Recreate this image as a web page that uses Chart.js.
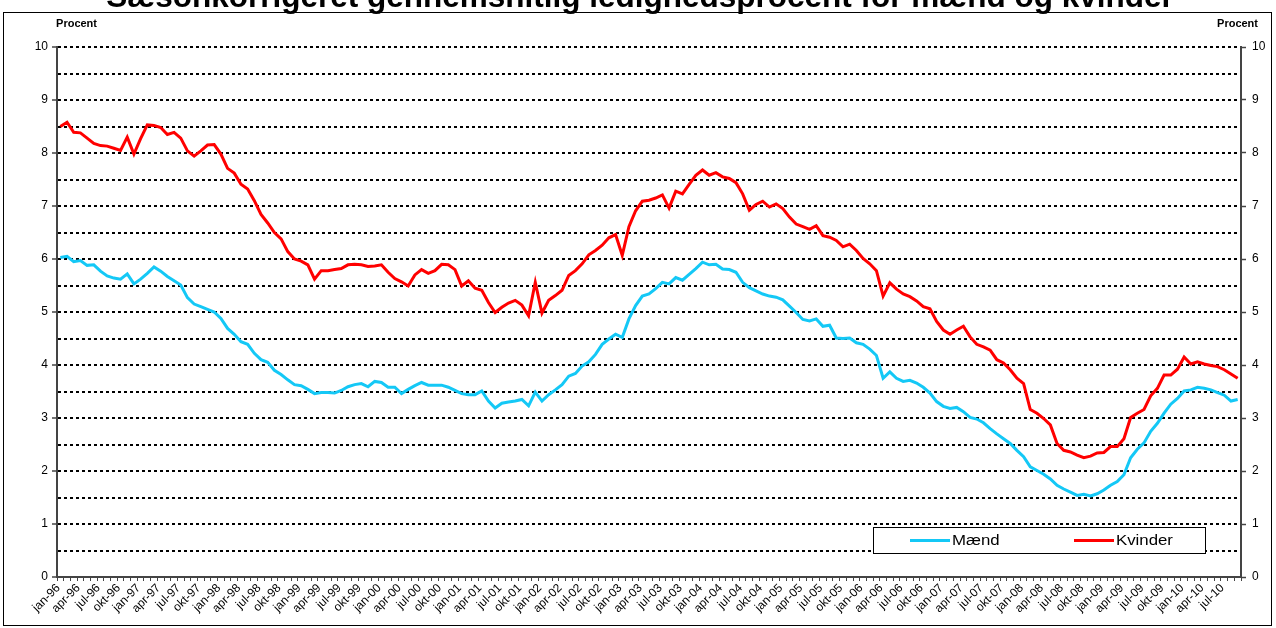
<!DOCTYPE html>
<html>
<head>
<meta charset="utf-8">
<script src="https://cdn.jsdelivr.net/npm/chart.js@4/dist/chart.umd.min.js"></script>
<style>
  html, body { margin: 0; padding: 0; background: #fff; }
  #wrap { width: 1276px; height: 628px; }
</style>
</head>
<body>
<div id="wrap"><canvas id="chart" width="1276" height="628"></canvas></div>
<script>
// months jan-96 .. sep-10
const monthNames = ["jan", "feb", "mar", "apr", "maj", "jun", "jul", "aug", "sep", "okt", "nov", "dec"];
const firstYear = 1996;
const monthCount = 177;
const months = [];
for (let i = 0; i < monthCount; i++) {
  const yy = String((firstYear + Math.floor(i / 12)) % 100).padStart(2, "0");
  months.push(monthNames[i % 12] + "-" + yy);
}

const yTicks = [0, 1, 2, 3, 4, 5, 6, 7, 8, 9, 10];

// ledighedsprocent, maend
const maend = [
  6.03, 6.05, 5.95, 5.97, 5.88, 5.89, 5.77, 5.68, 5.64, 5.62, 5.72, 5.53,
  5.62, 5.73, 5.85, 5.77, 5.67, 5.59, 5.51, 5.27, 5.15, 5.10, 5.05, 5.00,
  4.88, 4.69, 4.58, 4.44, 4.39, 4.22, 4.10, 4.05, 3.90, 3.82, 3.72, 3.63,
  3.61, 3.54, 3.46, 3.48, 3.48, 3.47, 3.52, 3.59, 3.63, 3.65, 3.59, 3.69,
  3.67, 3.58, 3.58, 3.46, 3.54, 3.61, 3.67, 3.62, 3.62, 3.62, 3.58, 3.52,
  3.46, 3.44, 3.44, 3.51, 3.32, 3.19, 3.28, 3.30, 3.32, 3.35, 3.23, 3.49,
  3.32, 3.44, 3.53, 3.63, 3.79, 3.84, 3.98, 4.06, 4.20, 4.39, 4.49, 4.58,
  4.52, 4.87, 5.12, 5.30, 5.34, 5.44, 5.56, 5.53, 5.65, 5.60, 5.71, 5.82,
  5.94, 5.89, 5.90, 5.81, 5.80, 5.75, 5.56, 5.46, 5.40, 5.34, 5.30, 5.28,
  5.23, 5.11, 4.99, 4.86, 4.83, 4.87, 4.73, 4.75, 4.51, 4.50, 4.51, 4.42,
  4.39, 4.30, 4.18, 3.75, 3.87, 3.75, 3.69, 3.71, 3.66, 3.58, 3.47, 3.31,
  3.22, 3.18, 3.20, 3.12, 3.01, 2.98, 2.91, 2.80, 2.70, 2.61, 2.52, 2.39,
  2.27, 2.08, 2.01, 1.94, 1.85, 1.73, 1.66, 1.60, 1.54, 1.56, 1.53, 1.57,
  1.64, 1.73, 1.80, 1.93, 2.25, 2.41, 2.53, 2.75, 2.90, 3.09, 3.26, 3.37,
  3.51, 3.53, 3.58, 3.56, 3.53, 3.48, 3.43, 3.32, 3.35
];

// ledighedsprocent, kvinder
const kvinder = [
  8.50, 8.58, 8.39, 8.38, 8.28, 8.18, 8.14, 8.13, 8.09, 8.05, 8.30, 7.98,
  8.27, 8.53, 8.52, 8.48, 8.35, 8.39, 8.28, 8.04, 7.94, 8.04, 8.15, 8.16,
  7.98, 7.71, 7.62, 7.41, 7.32, 7.10, 6.84, 6.68, 6.50, 6.38, 6.14, 6.00,
  5.96, 5.89, 5.62, 5.78, 5.78, 5.80, 5.82, 5.89, 5.90, 5.89, 5.86, 5.87,
  5.89, 5.75, 5.63, 5.57, 5.49, 5.70, 5.80, 5.73, 5.78, 5.90, 5.89, 5.80,
  5.49, 5.59, 5.45, 5.41, 5.18, 4.99, 5.09, 5.17, 5.22, 5.13, 4.93, 5.56,
  4.98, 5.22, 5.31, 5.41, 5.69, 5.78, 5.91, 6.08, 6.16, 6.26, 6.40, 6.46,
  6.07, 6.61, 6.91, 7.09, 7.11, 7.15, 7.21, 6.96, 7.28, 7.23, 7.41, 7.58,
  7.68, 7.58, 7.63, 7.55, 7.52, 7.44, 7.23, 6.92, 7.03, 7.09, 6.98, 7.04,
  6.95, 6.79, 6.66, 6.61, 6.56, 6.63, 6.44, 6.41, 6.35, 6.23, 6.28, 6.16,
  6.01, 5.91, 5.78, 5.30, 5.55, 5.43, 5.34, 5.29, 5.21, 5.10, 5.06, 4.82,
  4.66, 4.58, 4.66, 4.73, 4.53, 4.39, 4.34, 4.28, 4.10, 4.04, 3.91, 3.75,
  3.65, 3.16, 3.09, 2.99, 2.87, 2.52, 2.39, 2.36, 2.30, 2.25, 2.28, 2.34,
  2.35, 2.46, 2.46, 2.61, 3.01, 3.09, 3.16, 3.42, 3.56, 3.81, 3.81, 3.92,
  4.15, 4.02, 4.06, 4.02, 3.99, 3.97, 3.91, 3.83, 3.75
];

const FONT = '"Liberation Sans", Arial, sans-serif';

// frame, title, "Procent" and the legend box
const decor = {
  id: "decor",
  beforeDraw(chart) {
    const c = chart.ctx;
    c.save();
    c.fillStyle = "#fff";
    c.fillRect(0, 0, chart.width, chart.height);
    c.restore();
  },
  afterDraw(chart) {
    const c = chart.ctx;
    c.save();
    c.strokeStyle = "#000";
    c.lineWidth = 1;
    c.strokeRect(3.5, 12.5, 1268, 613);

    c.fillStyle = "#000";
    c.font = "bold 31.5px " + FONT;
    c.textAlign = "center";
    c.textBaseline = "alphabetic";
    c.fillText("Sæsonkorrigeret gennemsnitlig ledighedsprocent for mænd og kvinder", 640, 7);

    c.font = "bold 11px " + FONT;
    c.textAlign = "right";
    c.fillText("Procent", 97, 27);
    c.fillText("Procent", 1258, 27);

    // legend
    c.fillStyle = "#fff";
    c.fillRect(873, 527, 332, 26);
    c.strokeStyle = "#000";
    c.strokeRect(873.5, 527.5, 332, 26);
    const spots = [910, 1074];
    chart.data.datasets.forEach(function (ds, i) {
      const x = spots[i];
      c.strokeStyle = ds.borderColor;
      c.lineWidth = 3;
      c.beginPath();
      c.moveTo(x, 540.5);
      c.lineTo(x + 40, 540.5);
      c.stroke();
      c.save();
      c.translate(x + 42, 541);
      c.scale(1.2, 1);
      c.fillStyle = "#000";
      c.font = "14px " + FONT;
      c.textAlign = "left";
      c.textBaseline = "middle";
      c.fillText(ds.label, 0, 0);
      c.restore();
    });
    c.restore();
  }
};

const tickCol = (ctx) => (ctx.tick && Number.isInteger(ctx.tick.value) ? "#444" : "rgba(0,0,0,0)");

const ctx = document.getElementById("chart").getContext("2d");
const chart = new Chart(ctx, {
  type: "line",
  data: {
    labels: months,
    datasets: [
      {
        label: "Mænd",
        data: maend,
        borderColor: "#14c8f6",
        borderWidth: 3,
        pointRadius: 0,
        fill: false,
        tension: 0,
      },
      {
        label: "Kvinder",
        data: kvinder,
        borderColor: "#ff0000",
        borderWidth: 3,
        pointRadius: 0,
        fill: false,
        tension: 0,
      },
    ],
  },
  options: {
    responsive: false,
    animation: false,
    layout: { padding: { top: 47, left: 0, right: 0, bottom: 0 } },
    plugins: {
      legend: { display: false },
      title: { display: false },
      tooltip: { enabled: false },
    },
    scales: {
      x: {
        type: "category",
        offset: true,
        afterFit: (s) => { s.height = 51; },
        grid: {
          offset: true,
          drawOnChartArea: false,
          drawTicks: true,
          tickLength: 4,
          tickColor: "#444",
          tickWidth: 1,
        },
        border: { color: "#444", width: 2 },
        ticks: {
          autoSkip: false,
          maxRotation: 45,
          minRotation: 45,
          padding: 0,
          labelOffset: -2,
          color: "#000",
          font: { family: FONT, size: 12 },
          callback: function (value, index) {
            return index % 3 === 0 ? months[index] : "";
          },
        },
      },
      y: {
        position: "left",
        min: 0,
        max: 10,
        afterFit: (s) => { s.width = 57; },
        grid: {
          color: (c) => (c.tick && c.tick.value === 0 ? "rgba(0,0,0,0)" : "#000"),
          lineWidth: 2,
          tickLength: 5,
          tickColor: tickCol,
          tickWidth: 1.5,
        },
        border: { color: "#444", width: 2, dash: [3, 3] },
        ticks: {
          stepSize: 0.5,
          autoSkip: false,
          padding: 4,
          color: "#000",
          font: { family: FONT, size: 12 },
          callback: (v) => (yTicks.includes(v) ? v : ""),
        },
      },
      y2: {
        position: "right",
        min: 0,
        max: 10,
        afterFit: (s) => { s.width = 35; },
        grid: {
          drawOnChartArea: false,
          tickLength: 5,
          tickColor: tickCol,
          tickWidth: 1.5,
        },
        border: { color: "#444", width: 2 },
        ticks: {
          stepSize: 0.5,
          autoSkip: false,
          padding: 6,
          color: "#000",
          font: { family: FONT, size: 12 },
          callback: (v) => (yTicks.includes(v) ? v : ""),
        },
      },
    },
  },
  plugins: [decor],
});
</script>
</body>
</html>
